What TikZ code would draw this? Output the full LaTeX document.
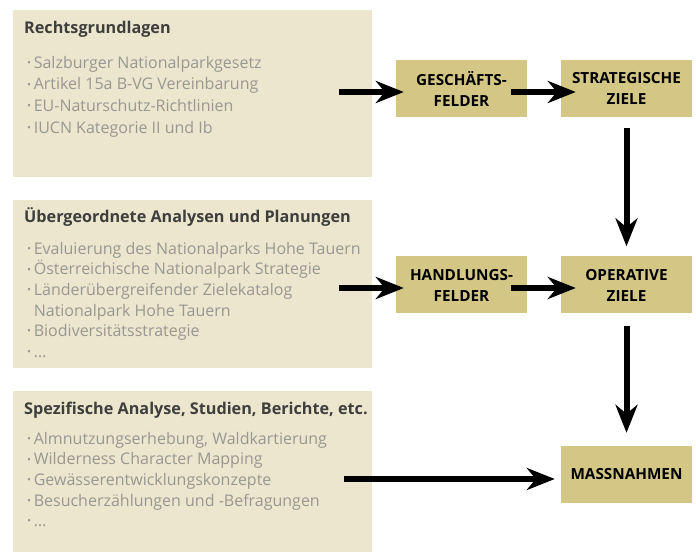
\documentclass[tikz,border=0pt]{standalone}
\usepackage{fontspec}
\setmainfont{Open Sans}
\usetikzlibrary{arrows.meta,positioning,calc}
\definecolor{beige}{RGB}{235,230,205}
\definecolor{oliv}{RGB}{212,199,133}
\definecolor{grautext}{RGB}{152,152,146}
\definecolor{kopftext}{RGB}{62,62,60}
\newcommand{\pkt}{\raisebox{1.8pt}{\fontsize{10.5}{10}\selectfont\textbullet}\,}
\tikzset{
	quelle/.style={fill=beige, minimum width=359pt, anchor=north west, inner sep=0pt},
	kopf/.style={font=\bfseries\fontsize{16.2}{20}\selectfont, text=kopftext, inner sep=0pt, anchor=base west},
	liste/.style={font=\fontsize{16}{20.6}\selectfont, text=grautext, align=left, inner sep=0pt, anchor=north west},
	feld/.style={fill=oliv, minimum width=131pt, minimum height=57pt, align=center, inner sep=0pt,
		font=\bfseries\fontsize{15.3}{21}\selectfont},
	pfeil/.style={-{Stealth[length=28pt,width=22pt,inset=9pt]}, line width=6pt},
}

\begin{document}
\begin{tikzpicture}[x=1pt,y=1pt]
		\useasboundingbox (0,0) rectangle (696,552);
		% Quellen links
		\node[quelle, minimum height=167pt] (recht) at (13,542) {};
		\node[quelle, minimum height=168pt] (analyse) at (13,352) {};
		\node[quelle, minimum height=161pt] (spezif) at (13,161) {};
		\node[kopf] (kopfR) at ([shift={(11,-23.3)}]recht.north west) {Rechtsgrundlagen};
		\node[liste, font=\fontsize{16}{21.8}\selectfont] at ([shift={(3,-22.5)}]kopfR.base west) {\pkt Salzburger Nationalparkgesetz\\
			\pkt Artikel 15a B-VG Vereinbarung\\ \pkt EU-Naturschutz-Richtlinien\\ \pkt IUCN Kategorie II und Ib};
		\node[kopf] (kopfA) at ([shift={(11,-23)}]analyse.north west) {Übergeordnete Analysen und Planungen};
		\node[liste] at ([shift={(3,-19)}]kopfA.base west) {\pkt Evaluierung des Nationalparks Hohe Tauern\\
			\pkt Österreichische Nationalpark Strategie\\ \pkt Länderübergreifender Zielekatalog\\
			\phantom{\pkt}Nationalpark Hohe Tauern\\ \pkt Biodiversitätsstrategie\\ \pkt \dots};
		\node[kopf] (kopfS) at ([shift={(11,-23)}]spezif.north west) {Spezifische Analyse, Studien, Berichte, etc.};
		\node[liste] at ([shift={(3,-18)}]kopfS.base west) {\pkt Almnutzungserhebung, Waldkartierung\\
			\pkt Wilderness Character Mapping\\ \pkt Gewässerentwicklungskonzepte\\
			\pkt Besucherzählungen und -Befragungen\\ \pkt \dots};
		% Felder rechts
		\node[feld] (gf) at (461.5,463.5) {GESCHÄFTS-\\FELDER};
		\node[feld] (sz) at (626.5,463.5) {STRATEGISCHE\\ZIELE};
		\node[feld] (hf) at (461.5,267) {HANDLUNGS-\\FELDER};
		\node[feld] (oz) at (626.5,267) {OPERATIVE\\ZIELE};
		\node[feld] (mn) at (626.5,77.5) {MASSNAHMEN};
		% Pfeile
		\draw[pfeil] ([xshift=-33pt]recht.east |- 0,460) -- ([xshift=8pt]gf.west |- 0,460);
		\draw[pfeil] ([xshift=-16pt]gf.east |- 0,460) -- ([xshift=15pt]sz.west |- 0,460);
		\draw[pfeil] ([xshift=-33pt]analyse.east |- 0,264) -- ([xshift=8pt]hf.west |- 0,264);
		\draw[pfeil] ([xshift=-16pt]hf.east |- 0,264) -- ([xshift=15pt]oz.west |- 0,264);
		\draw[pfeil, shorten <=11pt, shorten >=10pt] (sz) -- (oz);
		\draw[pfeil, shorten <=12pt, shorten >=13pt] (oz) -- (mn);
		\draw[pfeil] ([xshift=-28pt]spezif.east |- 0,73) -- ([xshift=-6pt]mn.west |- 0,73);
	\end{tikzpicture}
\end{document}
